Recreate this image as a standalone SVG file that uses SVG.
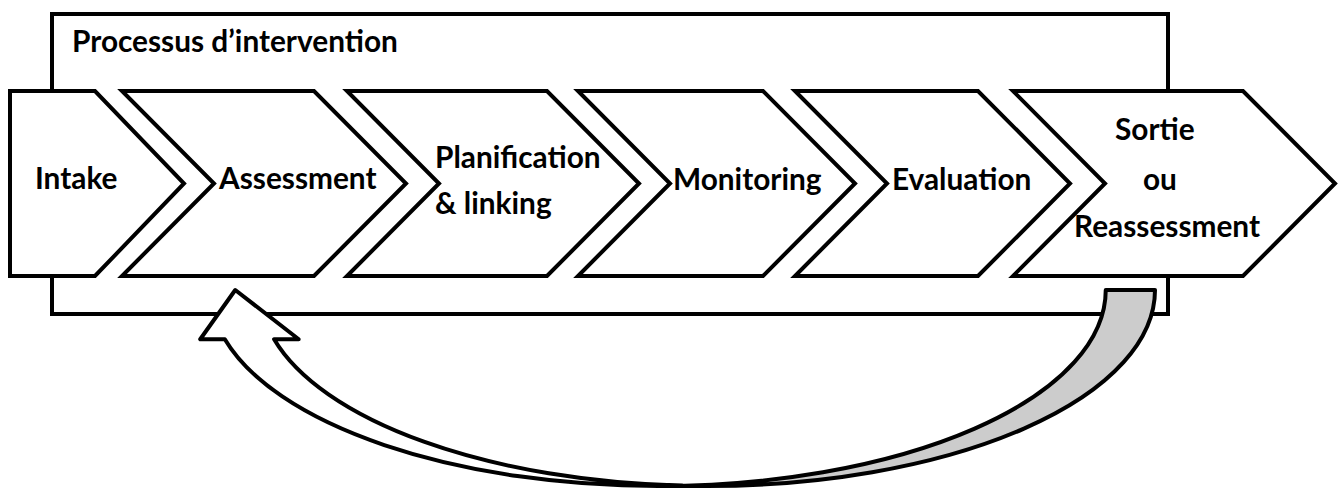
<svg xmlns="http://www.w3.org/2000/svg" width="1344" height="489" viewBox="0 0 1344 489">
  <style>
    .frame { fill: #ffffff; stroke: #000000; stroke-width: 4; }
    .step { fill: #ffffff; stroke: #000000; stroke-width: 4; stroke-linejoin: miter; }
    .lbl { font-family: Lato, "Liberation Sans", sans-serif; font-weight: 700; font-size: 29.8px; fill: #000000; }
    .arrow-face { fill: #ffffff; stroke: none; }
    .arrow-back { fill: #cccccc; stroke: none; }
    .arrow-edge { fill: none; stroke: #000000; stroke-width: 4; stroke-linejoin: round; }
  </style>

  <!-- container frame -->
  <g id="process-frame">
    <rect class="frame" x="52" y="14" width="1116" height="300"/>
    <text class="lbl" x="72" y="52">Processus d’intervention</text>
  </g>

  <!-- process steps -->
  <g id="step-intake">
    <polygon class="step" points="10,91 95,91 184,183.5 95,276 10,276"/>
    <text class="lbl" x="35" y="189">Intake</text>
  </g>
  <g id="step-assessment">
    <polygon class="step" points="122,91 314,91 406,183.5 314,276 122,276 214,183.5"/>
    <text class="lbl" x="219" y="189">Assessment</text>
  </g>
  <g id="step-planification">
    <polygon class="step" points="347,91 547,91 639,183.5 547,276 347,276 439,183.5"/>
    <text class="lbl" x="435" y="168">Planification</text>
    <text class="lbl" x="435" y="214">&amp; linking</text>
  </g>
  <g id="step-monitoring">
    <polygon class="step" points="578,91 763,91 855,183.5 763,276 578,276 670,183.5"/>
    <text class="lbl" x="673" y="190">Monitoring</text>
  </g>
  <g id="step-evaluation">
    <polygon class="step" points="795,91 978,91 1070,183.5 978,276 795,276 887,183.5"/>
    <text class="lbl" x="892" y="190">Evaluation</text>
  </g>
  <g id="step-sortie">
    <polygon class="step" points="1013,91 1243,91 1335,183.5 1243,276 1013,276 1105,183.5"/>
    <text class="lbl" x="1115" y="140">Sortie</text>
    <text class="lbl" x="1143" y="190">ou</text>
    <text class="lbl" x="1074" y="237">Reassessment</text>
  </g>

  <!-- feedback loop: curved block arrow, mirrored so the head points up on the left -->
  <g id="connectors">
    <g id="loop-arrow" transform="translate(1155,290) scale(-1,1)">
      <path class="arrow-back" d="M447.56,196 A447.56,196 0 0 1 0,0 L49.25,0 A447.56,196 0 0 0 496.81,196 Z"/>
      <path class="arrow-face" d="M919.75,0 L954.79,49.25 L930.16,49.25 A447.56,196 0 0 1 472.19,195.7 A447.56,196 0 0 0 880.91,49.25 L856.29,49.25 Z"/>
      <path class="arrow-edge" d="M472.19,195.7 A447.56,196 0 0 0 880.91,49.25 L856.29,49.25 L919.75,0 L954.79,49.25 L930.16,49.25 A447.56,196 0 0 1 496.81,196 L447.56,196 A447.56,196 0 0 1 0,0 L49.25,0 A447.56,196 0 0 0 496.81,196"/>
    </g>
  </g>
</svg>
